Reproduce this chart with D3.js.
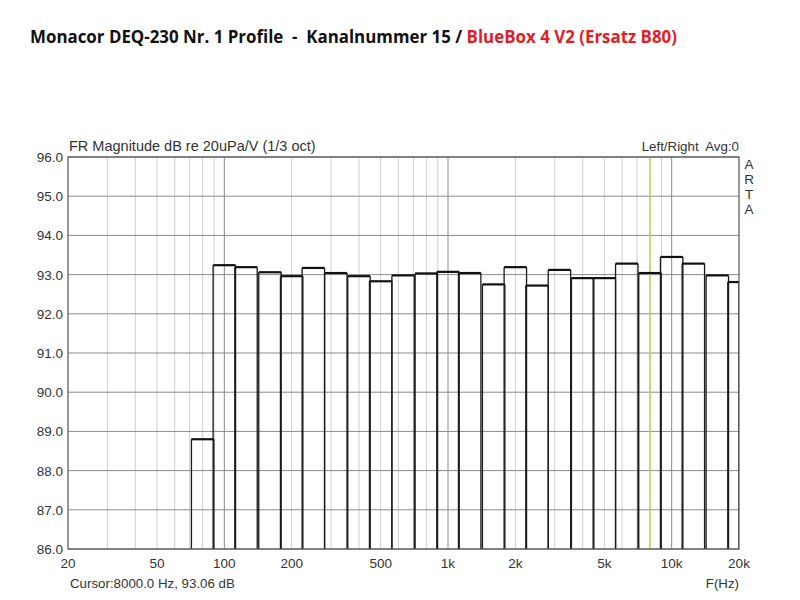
<!DOCTYPE html>
<html>
<head>
<meta charset="utf-8">
<script src="https://cdn.jsdelivr.net/npm/d3@7"></script>
<style>
  body { margin: 0; background: #fff; }
  svg { display: block; }
  text { white-space: pre; }
  .vert { writing-mode: vertical-rl; text-orientation: upright; }
</style>
</head>
<body>
<svg id="chart"></svg>
<script>
// 1/3 octave band centres (Hz) and measured levels (dB)
const bandCenters = [80, 100, 125, 160, 200, 250, 315, 400, 500, 630, 800, 1000, 1250, 1600,
    2000, 2500, 3150, 4000, 5000, 6300, 8000, 10000, 12500, 16000, 20000];
const levels = [88.80, 93.24, 93.19, 93.06, 92.96, 93.17, 93.04, 92.96, 92.83, 92.98, 93.03, 93.07,
    93.04, 92.75, 93.19, 92.72, 93.12, 92.91, 92.91, 93.28, 93.04, 93.45, 93.28, 92.98, 92.81];
const yTicks = [86, 87, 88, 89, 90, 91, 92, 93, 94, 95, 96];
const xTickValues = [20, 50, 100, 200, 500, 1000, 2000, 5000, 10000, 20000];
const xTickLabels = ["20", "50", "100", "200", "500", "1k", "2k", "5k", "10k", "20k"];
const cursorFreq = 8000;

const width = 800, height = 600;
const margin = { top: 157, right: 61, bottom: 51, left: 68 };
const innerW = width - margin.left - margin.right;
const innerH = height - margin.top - margin.bottom;

const svg = d3.select("#chart").attr("width", width).attr("height", height);

// Title
const title = svg.append("text")
    .attr("x", 30).attr("y", 43)
    .attr("xml:space", "preserve")
    .attr("font-family", "'Open Sans', sans-serif")
    .attr("font-weight", "bold")
    .attr("font-size", 17)
    .attr("textLength", 647)
    .attr("lengthAdjust", "spacingAndGlyphs");
title.append("tspan").attr("fill", "#111").text("Monacor DEQ-230 Nr. 1 Profile  -  Kanalnummer 15 / ");
title.append("tspan").attr("fill", "#e01e24").text("BlueBox 4 V2 (Ersatz B80)");

const x = d3.scaleLog().domain([20, 20000]).range([0, innerW]);
const y = d3.scaleLinear().domain([86, 96]).range([innerH, 0]);

const g = svg.append("g").attr("transform", `translate(${margin.left},${margin.top})`);

// clip to plot area
svg.append("clipPath").attr("id", "plot-clip")
    .append("rect").attr("width", innerW).attr("height", innerH);

// minor vertical gridlines (1..9 per decade)
const minorFreqs = [];
[10, 100, 1000, 10000].forEach(dec => {
    for (let k = 1; k <= 9; k++) {
        const f = dec * k;
        if (f > 20 && f < 20000) minorFreqs.push(f);
    }
});
g.append("g").selectAll("line")
    .data(minorFreqs)
    .join("line")
    .attr("x1", d => x(d)).attr("x2", d => x(d))
    .attr("y1", 0).attr("y2", innerH)
    .attr("stroke", d => [100, 1000, 10000].includes(d) ? "#8a8a8a" : "#cfcfcf")
    .attr("stroke-width", 1);

// horizontal gridlines
g.append("g").selectAll("line")
    .data(yTicks)
    .join("line")
    .attr("x1", 0).attr("x2", innerW)
    .attr("y1", d => y(d)).attr("y2", d => y(d))
    .attr("stroke", "#8a8a8a")
    .attr("stroke-width", 1);

// cursor line
g.append("line")
    .attr("x1", x(cursorFreq)).attr("x2", x(cursorFreq))
    .attr("y1", 0).attr("y2", innerH)
    .attr("stroke", "#c8cc5a")
    .attr("stroke-width", 1.5);

// bars: 1/3 octave bands as outlines
const bands = bandCenters.map((c, i) => ({
    lo: c / Math.pow(2, 1 / 6),
    hi: Math.min(c * Math.pow(2, 1 / 6), 20000),
    v: levels[i]
}));

const barG = g.append("g").attr("clip-path", "url(#plot-clip)");
barG.selectAll("path.side")
    .data(bands)
    .join("path")
    .attr("class", "side")
    .attr("d", d => `M${x(d.lo)},${innerH}V${y(d.v)}M${x(d.hi)},${y(d.v)}V${innerH}`)
    .attr("fill", "none")
    .attr("stroke", "#1a1a1a")
    .attr("stroke-width", 1.3);
barG.selectAll("line.top")
    .data(bands)
    .join("line")
    .attr("class", "top")
    .attr("x1", d => x(d.lo)).attr("x2", d => x(d.hi))
    .attr("y1", d => y(d.v)).attr("y2", d => y(d.v))
    .attr("stroke", "#111")
    .attr("stroke-width", 2.2);

// frame
g.append("rect")
    .attr("width", innerW).attr("height", innerH)
    .attr("fill", "none")
    .attr("stroke", "#555")
    .attr("stroke-width", 1.2);

const font = "'Liberation Sans', Arial, sans-serif";

// y tick labels
g.append("g").selectAll("text")
    .data(yTicks)
    .join("text")
    .attr("x", -5).attr("y", d => y(d) + 5)
    .attr("text-anchor", "end")
    .attr("font-family", font).attr("font-size", 13.5).attr("fill", "#333")
    .text(d => d.toFixed(1));

// x tick labels
g.append("g").selectAll("text")
    .data(xTickValues)
    .join("text")
    .attr("x", d => x(d)).attr("y", innerH + 19)
    .attr("text-anchor", "middle")
    .attr("font-family", font).attr("font-size", 13.5).attr("fill", "#333")
    .text((d, i) => xTickLabels[i]);

// header texts
g.append("text")
    .attr("x", 1).attr("y", -6)
    .attr("font-family", font).attr("font-size", 14.5).attr("fill", "#333")
    .text("FR Magnitude dB re 20uPa/V (1/3 oct)");
g.append("text")
    .attr("x", innerW).attr("y", -6)
    .attr("text-anchor", "end")
    .attr("font-family", font).attr("font-size", 13.3).attr("fill", "#333")
    .attr("xml:space", "preserve")
    .text("Left/Right  Avg:0");

// ARTA label, stacked upright letters
g.append("text")
    .attr("class", "vert")
    .attr("x", innerW + 10).attr("y", 0)
    .attr("font-family", font).attr("font-size", 13.5).attr("fill", "#333")
    .text("ARTA");

// footer texts
g.append("text")
    .attr("x", 2).attr("y", innerH + 39)
    .attr("font-family", font).attr("font-size", 13.3).attr("fill", "#333")
    .text("Cursor:8000.0 Hz, 93.06 dB");
g.append("text")
    .attr("x", innerW).attr("y", innerH + 39)
    .attr("text-anchor", "end")
    .attr("font-family", font).attr("font-size", 13.3).attr("fill", "#333")
    .text("F(Hz)");
</script>
</body>
</html>
